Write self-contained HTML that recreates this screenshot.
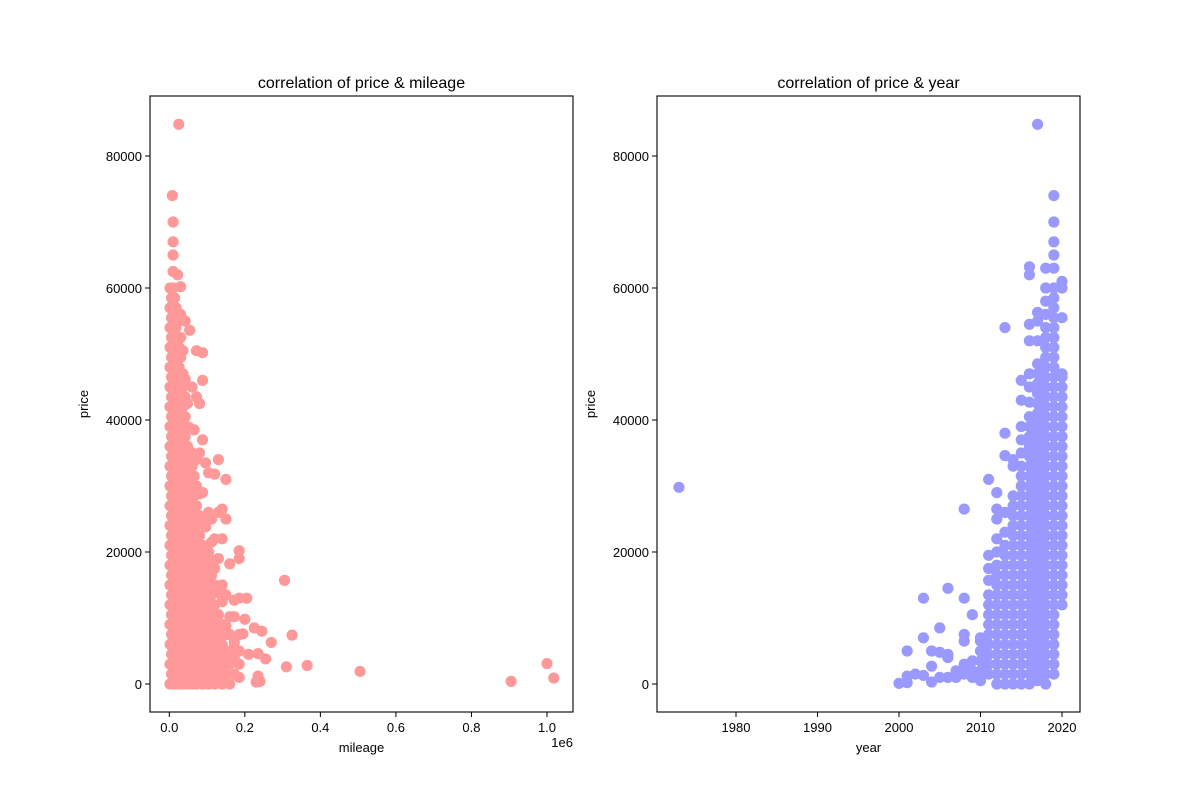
<!DOCTYPE html>
<html><head><meta charset="utf-8"><style>
body{margin:0;background:#fff}
svg text{font-family:"Liberation Sans","DejaVu Sans",sans-serif;fill:#000}
</style></head><body>
<svg id="chart" width="1200" height="800" xmlns="http://www.w3.org/2000/svg">
<rect width="1200" height="800" fill="#fff"/>
</svg>
<script>
// ---------- left chart data: mileage (thousands) groups with prices (thousands) ----------
const mileageGroups = [2,6,10,14,18,22,26,30,36,42,48,54,60,66,72,80,88,96,104,112,120,130,140,150,160,172,185];
const priceGroups = [
[0,3,6,9,12,15,18,21,24,27,30,33,36,39,42,45,48,51,54,57,60],
[1.5,4.5,7.5,10.5,13.5,16.5,19.5,22.5,25.5,28.5,31.5,34.5,37.5,40.5,43.5,46.5,49.5,52.5,55.5,58.5],
[0,3,6,9,12,15,18,21,24,27,30,33,36,39,42,45,48,51,54,57,60,62.5,65],
[1.5,4.5,7.5,10.5,13.5,16.5,19.5,22.5,25.5,28.5,31.5,34.5,37.5,40.5,43.5,46.5,49.5,52.5,55.5,58.5],
[0,3,6,9,12,15,18,21,24,27,30,33,36,39,42,45,48,51,54,57],
[1.5,4.5,7.5,10.5,13.5,16.5,19.5,22.5,25.5,28.5,31.5,34.5,37.5,40.5,43.5,46.5,49.5,52.5,55.5,62],
[0,3,6,9,12,15,18,21,24,27,30,33,36,39,42,45,48,51,55],
[1.5,4.5,7.5,10.5,13.5,16.5,19.5,22.5,25.5,28.5,31.5,34.5,37.5,40.5,43.5,46.5,49.5,52.5,56,60.2],
[0,3,6,9,12,15,18,21,24,27,30,33,36,39,42,45,47,50.5],
[1.5,4.5,7.5,10.5,13.5,16.5,19.5,22.5,25.5,28.5,31.5,34.5,37.5,40.5,43.5,46.2,55],
[0,3,6,9,12,15,18,21,24,27,30,33,36,39,42.5],
[1.5,4.5,7.5,10.5,13.5,16.5,19.5,22.5,25.5,28.5,31.5,34.5,38.8,53.6],
[0,3,6,9,12,15,18,21,24,27,30,33,35,45],
[1.5,4.5,7.5,10.5,13.5,16.5,19.5,22.5,25.5,28.5,31.5,33.8,38.5],
[0,3,6,9,12,15,18,21,24,27,30,34,43.5,50.5],
[1.5,4.5,7.5,10.5,13.5,16.5,19.5,22.5,25.5,28.8,35,42.5],
[0,3,6,9,12,15,18,21,25,29,37,46,50.2],
[1.5,4.5,7.5,10.5,13.5,16.5,19.5,23.8,33.5],
[0,3,6,9,12,15,18,20,26,32],
[1.5,4.5,7.5,10.5,13.5,16.5,18.8,21.5,25],
[0,3,6,9,12,15,17.5,22,31.8],
[1.5,4.5,7.5,10.5,13.8,19,26,34],
[0,3,6,9,12.5,15,22,26.5],
[1.5,4.5,7.5,8.8,13.5,25,31],
[0,3,5,7.5,10.2,18.2],
[1.5,4,6.3,10.2,12.7],
[1,3,5,7.5,13,19,20.2]];
const mileageOutliers = [25,8,10,10,305,325,365,505,905,1000,1018,310,270,255,245,225,235,205,210,195,200,235,240,230];
const priceOutliers = [84.8,74,70,67,15.7,7.4,2.8,1.9,0.4,3.1,0.9,2.6,6.3,3.8,8,8.5,4.6,13,4.5,7.6,9.8,1.2,0.4,0.3];
const leftXTicks = [0,0.2,0.4,0.6,0.8,1.0];
const leftXTickLabels = ["0.0","0.2","0.4","0.6","0.8","1.0"];
const priceTicks = [0,20000,40000,60000,80000];

// ---------- right chart data: year columns with prices (thousands) ----------
const years = [2020,2019,2018,2017,2016,2015,2014,2013,2012,2011,2010,2009,2008,2007,2006,2005,2004,2003,2002,2001,2000,1973];
const yearPrices = [
[12,13.5,15,16.5,18,19.5,21,22.5,24,25.5,27,28.5,30,31.5,33,34.5,36,37.5,39,40.5,42,43.5,45,46.5,47,55.5,60,61],
[1.5,3,4.5,6,7.5,9,10.5,12,13.5,15,16.5,18,19.5,21,22.5,24,25.5,27,28.5,30,31.5,33,34.5,36,37.5,39,40.5,42,43.5,45,46.5,48,49.5,51,52.5,54,55.5,57,58.5,60,63,65,67,70,74],
[0,1.5,3,4.5,6,7.5,9,10.5,12,13.5,15,16.5,18,19.5,21,22.5,24,25.5,27,28.5,30,31.5,33,34.5,36,37.5,39,40.5,42,43.5,45,46.5,48,49.5,51,52.5,54,56,58,60,63],
[0.5,2,3.5,5,6.5,8,9.5,11,12.5,14,15.5,17,18.5,20,21.5,23,24.5,26,27.5,29,30.5,32,33.5,35,36.5,38,39.5,41,42.5,44,45.5,47,48.5,52,55,56.3,84.8],
[0,1.5,3,4.5,6,7.5,9,10.5,12,13.5,15,16.5,18,19.5,21,22.5,24,25.5,27,28.5,30,31.5,33,34.5,36,37.5,39,40.5,42.7,45,47,52,54.5,62,63.2],
[0,1.5,3,4.5,6,7.5,9,10.5,12,13.5,15,16.5,18,19.5,21,22.5,24,25.5,27,28.5,30,31.5,33,35,37,39,43,46],
[0,1.5,3,4.5,6,7.5,9,10.5,12,13.5,15,16.5,18,19.5,21,22.5,24,25.5,27,28.5,33,34],
[0,1.5,3,4.5,6,7.5,9,10.5,12,13.5,15,16.5,18,19.5,21,23,26,34.6,38,54],
[0,1.5,3,4.5,6,7.5,9,10.5,12,13.5,15,16.5,18,20,22,25,26.5,29],
[1.5,3,4.5,6,7.5,9,10.5,12,13.5,15.7,17.5,19.5,31],
[0.5,2,3.5,5,6.5,7],
[1,2,3.5,10.5],
[1.5,3,6.5,7.5,13,26.5],
[1,2],
[4.5,4,14.5,1],
[8.5,4.8,1],
[0.3,2.7,5],
[13,7,1.3],
[1.5],
[0.2,1.2,5],
[0.1],
[29.8]];
const yearTicks = [1980,1990,2000,2010,2020];

// ---------- rendering ----------
const NS = "http://www.w3.org/2000/svg";
const svg = document.getElementById("chart");
const MR = 5.6;
function mk(tag, attrs, parent){
  const e = document.createElementNS(NS, tag);
  for (const k in attrs) e.setAttribute(k, attrs[k]);
  (parent||svg).appendChild(e);
  return e;
}
const plotTop = 96, plotBottom = 712;
function yScale(p){ return 684 - (p/80000)*528; }
function lxScale(m){ return 169.3 + (m/1e6)*377.7; }
function rxScale(y){ return 736 + (y-1980)/40*326; }

function drawFrame(x0, x1, title, xlabel, prefix){
  const g = mk("g", {});
  
  
  const t = mk("text", {x:(x0+x1)/2, y:88, "text-anchor":"middle", "font-size":"16"}, g);
  t.textContent = title;
  
  
  const xl = mk("text", {x:(x0+x1)/2, y:752, "text-anchor":"middle", "font-size":"13"}, g);
  xl.textContent = xlabel;
  
  
  const yl = mk("text", {x:0, y:0, "text-anchor":"middle", "font-size":"13", transform:`translate(${x0-62},${(plotTop+plotBottom)/2}) rotate(-90)`}, g);
  yl.textContent = "price";
  
  
  priceTicks.forEach(p => {
    const y = yScale(p);
    mk("line", {x1:x0-5, x2:x0, y1:y, y2:y, stroke:"#000", "stroke-width":1}, g);
    const l = mk("text", {x:x0-8, y:y+5, "text-anchor":"end", "font-size":"13"}, g);
    l.textContent = String(p);
    
    
  });
  return g;
}
function drawSpines(x0, x1, prefix){
  const r = mk("rect", {x:x0, y:plotTop, width:x1-x0, height:plotBottom-plotTop, fill:"none", stroke:"#000", "stroke-width":1.1});
  
  
}

// left
const gl = drawFrame(150, 573, "correlation of price & mileage", "mileage", "left");
leftXTicks.forEach((v,i) => {
  const x = lxScale(v*1e6);
  mk("line", {x1:x, x2:x, y1:plotBottom, y2:plotBottom+5, stroke:"#000", "stroke-width":1}, gl);
  const l = mk("text", {x:x, y:plotBottom+20, "text-anchor":"middle", "font-size":"13"}, gl);
  l.textContent = leftXTickLabels[i];
  
  
});
const off = mk("text", {x:573, y:747, "text-anchor":"end", "font-size":"13"}, gl);
off.textContent = "1e6";


const lp = mk("g", {fill:"#ff9999"});


mileageGroups.forEach((m,i) => {
  priceGroups[i].forEach(p => {
    const c = mk("circle", {cx:lxScale(m*1000), cy:yScale(p*1000), r:MR}, lp);
    
    
  });
});
mileageOutliers.forEach((m,i) => {
  const c = mk("circle", {cx:lxScale(m*1000), cy:yScale(priceOutliers[i]*1000), r:MR}, lp);
  
  
});
drawSpines(150, 573, "left");

// right
const gr = drawFrame(657, 1080, "correlation of price & year", "year", "right");
yearTicks.forEach(v => {
  const x = rxScale(v);
  mk("line", {x1:x, x2:x, y1:plotBottom, y2:plotBottom+5, stroke:"#000", "stroke-width":1}, gr);
  const l = mk("text", {x:x, y:plotBottom+20, "text-anchor":"middle", "font-size":"13"}, gr);
  l.textContent = String(v);
  
  
});
const rp = mk("g", {fill:"#9999ff"});


years.forEach((yr,i) => {
  yearPrices[i].forEach(p => {
    const c = mk("circle", {cx:rxScale(yr), cy:yScale(p*1000), r:MR}, rp);
    
    
  });
});
drawSpines(657, 1080, "right");
</script>
</body></html>
